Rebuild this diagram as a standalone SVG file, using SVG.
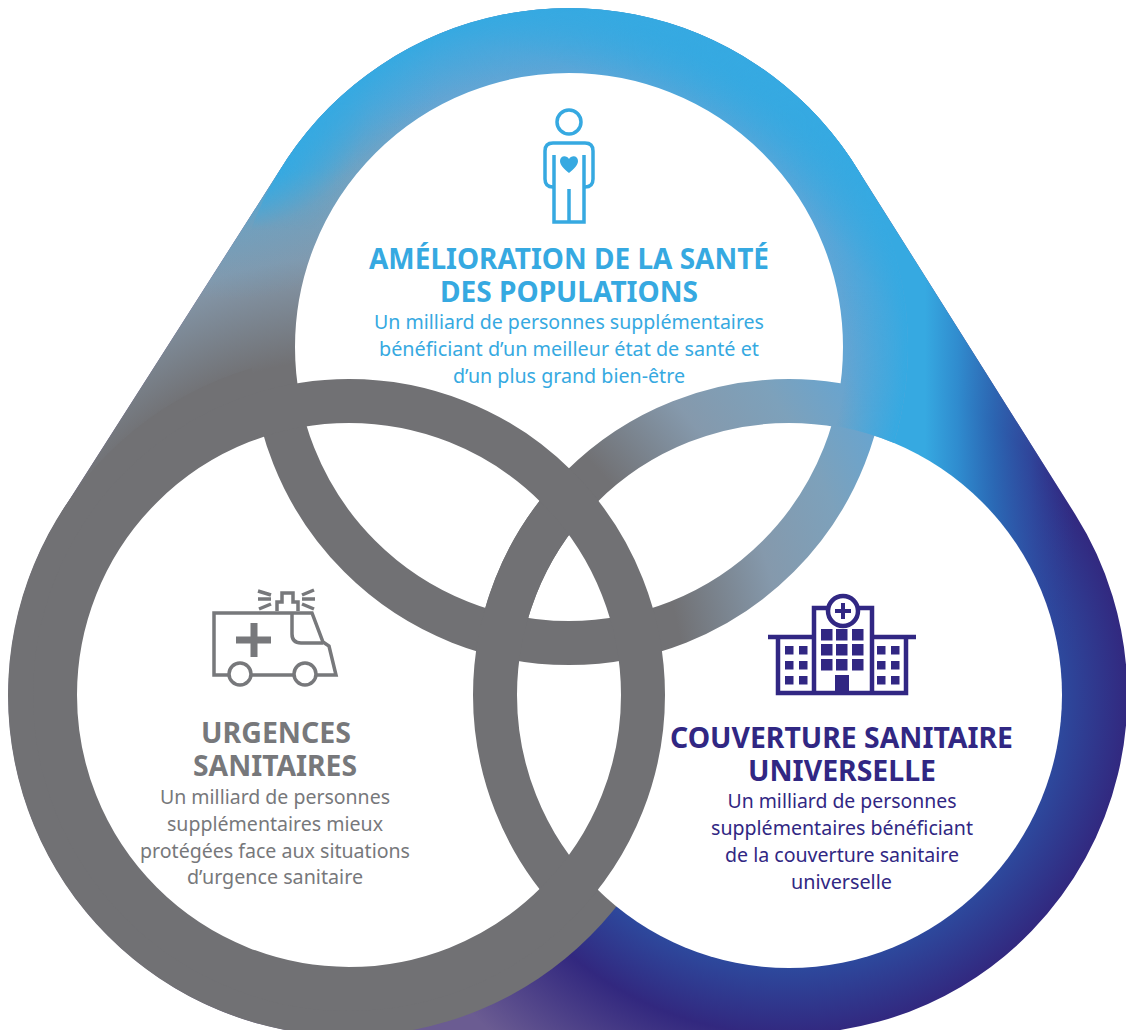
<svg xmlns="http://www.w3.org/2000/svg" width="1126" height="1030" viewBox="0 0 1126 1030">
<style>
text{font-family:"Noto Sans","Liberation Sans",sans-serif;text-anchor:middle}
.h{font-size:28px;font-weight:700}
.b{font-size:19px;font-weight:400}
.sky{fill:#36a9e1}.gr{fill:#77787b}.nv{fill:#312783}
.ring{fill:none;stroke-width:44}
</style>
<defs>
<radialGradient id="rT" gradientUnits="userSpaceOnUse" cx="349" cy="695" r="730">
<stop offset="0.46" stop-color="#717174"/><stop offset="0.6" stop-color="#8599ac"/><stop offset="0.71" stop-color="#7da1bb"/><stop offset="0.82" stop-color="#64a5d3"/><stop offset="0.91" stop-color="#5aa6d8"/><stop offset="1" stop-color="#36a9e1"/>
</radialGradient>
<radialGradient id="rO" gradientUnits="userSpaceOnUse" cx="230" cy="90" r="210">
<stop offset="0.36" stop-color="#36a9e1"/><stop offset="0.52" stop-color="#36a9e1" stop-opacity="0.55"/><stop offset="0.67" stop-color="#36a9e1" stop-opacity="0.2"/><stop offset="1" stop-color="#36a9e1" stop-opacity="0"/>
</radialGradient>
<radialGradient id="rE" gradientUnits="userSpaceOnUse" cx="569" cy="347" r="339">
<stop offset="0.82" stop-color="#36a9e1" stop-opacity="0"/><stop offset="0.94" stop-color="#36a9e1" stop-opacity="0.65"/><stop offset="1" stop-color="#36a9e1"/>
</radialGradient>
<radialGradient id="rR" gradientUnits="userSpaceOnUse" cx="789" cy="695" r="450">
<stop offset="0.6" stop-color="#2d4a9e"/><stop offset="0.755" stop-color="#32287f"/><stop offset="1" stop-color="#6b5c92"/>
</radialGradient>
<linearGradient id="lS" gradientUnits="userSpaceOnUse" x1="925" y1="430" x2="1075" y2="430">
<stop offset="0" stop-color="#36a9e1"/><stop offset="0.22" stop-color="#2f90d2" stop-opacity="0.95"/><stop offset="0.46" stop-color="#2a6fba" stop-opacity="0.85"/><stop offset="0.7" stop-color="#2e52a6" stop-opacity="0.7"/><stop offset="1" stop-color="#2f3a96" stop-opacity="0"/>
</linearGradient>
<linearGradient id="mV" gradientUnits="userSpaceOnUse" x1="0" y1="170" x2="0" y2="230">
<stop offset="0" stop-color="#fff"/><stop offset="1" stop-color="#000"/>
</linearGradient>
<linearGradient id="mH" gradientUnits="userSpaceOnUse" x1="720" y1="0" x2="800" y2="0">
<stop offset="0" stop-color="#000"/><stop offset="1" stop-color="#fff"/>
</linearGradient>
<mask id="mE" maskUnits="userSpaceOnUse" x="0" y="0" width="1126" height="1030">
<rect x="0" y="0" width="720" height="1030" fill="url(#mV)"/>
<rect x="720" y="0" width="406" height="1030" fill="url(#mH)"/>
<rect x="720" y="0" width="406" height="170" fill="#fff"/>
</mask>
<clipPath id="cT"><circle cx="569" cy="347" r="318"/></clipPath>
<clipPath id="cL"><circle cx="349" cy="695" r="316"/></clipPath>
<clipPath id="cH"><path d="M282.500 166A339 339 0 0 1 855.500 166L1075 514A339 339 0 0 1 789 1034L349 1036A341 341 0 0 1 61 513Z"/></clipPath>
<clipPath id="cO"><path clip-rule="evenodd" d="M0 0H1126V1030H0ZM516 695A273 273 0 0 0 1062 695A273 273 0 0 0 516 695Z"/></clipPath>
<path id="hull" d="M282.500 166A339 339 0 0 1 855.500 166L1075 514A339 339 0 0 1 789 1034L349 1036A341 341 0 0 1 61 513Z"/>
<path id="upper" d="M61 513L282.500 166L569 347L349 695ZM230 347A339 339 0 0 1 908 347A339 339 0 0 1 230 347Z"/>
</defs>
<g id="background">
<use href="#hull" fill="url(#rR)"/>
<rect x="700" y="100" width="426" height="550" fill="url(#lS)" clip-path="url(#cH)"/>
<use href="#upper" fill="url(#rT)"/>
<use href="#upper" fill="url(#rO)"/>
<circle cx="349" cy="695" r="341" fill="#717174"/>
</g>
<g id="discs" fill="#fff">
<circle cx="789" cy="695" r="273"/>
<circle cx="569" cy="347" r="275"/>
<circle cx="349" cy="695" r="273"/>
</g>
<g id="rings">
<circle class="ring" cx="569" cy="347" r="296" stroke="url(#rT)"/>
<circle class="ring" cx="569" cy="347" r="296" stroke="url(#rO)"/>
<circle class="ring" cx="789" cy="695" r="294" stroke="url(#rT)" clip-path="url(#cT)"/>
<circle class="ring" cx="789" cy="695" r="294" stroke="#717174" clip-path="url(#cL)"/>
<circle class="ring" cx="349" cy="695" r="294" stroke="#717174"/>
<g clip-path="url(#cO)"><path d="M230 347A339 339 0 0 1 908 347A339 339 0 0 1 230 347ZM296 347A273 273 0 0 0 842 347A273 273 0 0 0 296 347Z" fill="url(#rE)" mask="url(#mE)"/></g>
</g>
<g id="node-sante">
<g fill="none" stroke="#36a9e1" stroke-width="3.500">
<circle cx="569" cy="122" r="12"/>
<path d="M554 187H553Q545 187 545 179V151Q545 143 553 143H585Q593 143 593 151V179Q593 187 585 187H584"/>
<path d="M554 155V222H584V155M569 189V222"/>
</g>
<path d="M569 173C564 169 560 165 560 161C560 155 567 155 569 159C571 155 578 155 578 161C578 165 574 169 569 173Z" fill="#36a9e1"/>
<text class="h sky" x="569" y="268.500" textLength="400" lengthAdjust="spacingAndGlyphs">AMÉLIORATION DE LA SANTÉ</text>
<text class="h sky" x="569" y="301.500" textLength="258" lengthAdjust="spacingAndGlyphs">DES POPULATIONS</text>
<text class="b sky" x="569" y="328.500" textLength="390" lengthAdjust="spacingAndGlyphs">Un milliard de personnes supplémentaires</text>
<text class="b sky" x="569" y="355.500" textLength="380" lengthAdjust="spacingAndGlyphs">bénéficiant d’un meilleur état de santé et</text>
<text class="b sky" x="569" y="382.500" textLength="232" lengthAdjust="spacingAndGlyphs">d’un plus grand bien-être</text>
</g>
<g id="node-urgences">
<g fill="none" stroke="#77787b" stroke-width="3.500">
<path d="M229 675H214V613H312L323 642L329 646L336 675H316M251 675H294"/>
<path d="M292 613V634Q292 643 301 643H323"/>
<circle cx="240" cy="674" r="11"/><circle cx="305" cy="674" r="11"/>
<path d="M277 611V602H282V593H293V602H298V611"/>
<path d="M258 591L271 595M258 599H271M259 609L271 604M302 595L314 590M302 599H315M302 604L314 609"/>
</g>
<path d="M236 636.500H250.500V623H257.500V636.500H271V643.500H257.500V657H250.500V643.500H236Z" fill="#77787b"/>
<text class="h gr" x="276" y="743" textLength="150" lengthAdjust="spacingAndGlyphs">URGENCES</text>
<text class="h gr" x="275" y="776" textLength="164" lengthAdjust="spacingAndGlyphs">SANITAIRES</text>
<text class="b gr" x="275" y="804" textLength="230" lengthAdjust="spacingAndGlyphs">Un milliard de personnes</text>
<text class="b gr" x="275" y="831" textLength="216" lengthAdjust="spacingAndGlyphs">supplémentaires mieux</text>
<text class="b gr" x="275" y="858" textLength="270" lengthAdjust="spacingAndGlyphs">protégées face aux situations</text>
<text class="b gr" x="275" y="884" textLength="176" lengthAdjust="spacingAndGlyphs">d’urgence sanitaire</text>
</g>
<g id="node-couverture">
<g fill="none" stroke="#312783" stroke-width="4.500">
<path d="M768 637H813M871 637H916"/>
<path d="M778 637V693H906V637"/>
<path d="M814 693V608H872V693"/>
<circle cx="843" cy="611" r="15" fill="#fff"/>
</g>
<path d="M841 603H845V609H851V613H845V619H841V613H835V609H841Z" fill="#312783"/>
<g fill="#312783">
<rect x="821" y="629" width="11.500" height="11.500"/><rect x="836" y="629" width="11.500" height="11.500"/><rect x="852" y="629" width="11.500" height="11.500"/>
<rect x="821" y="644" width="11.500" height="11.500"/><rect x="836" y="644" width="11.500" height="11.500"/><rect x="852" y="644" width="11.500" height="11.500"/>
<rect x="821" y="659" width="11.500" height="11.500"/><rect x="836" y="659" width="11.500" height="11.500"/><rect x="852" y="659" width="11.500" height="11.500"/>
<rect x="835" y="675" width="14" height="19"/>
<rect x="785" y="646" width="8.500" height="8.500"/><rect x="799" y="646" width="8.500" height="8.500"/>
<rect x="785" y="661" width="8.500" height="8.500"/><rect x="799" y="661" width="8.500" height="8.500"/>
<rect x="785" y="676" width="8.500" height="8.500"/><rect x="799" y="676" width="8.500" height="8.500"/>
<rect x="877" y="646" width="8.500" height="8.500"/><rect x="891" y="646" width="8.500" height="8.500"/>
<rect x="877" y="661" width="8.500" height="8.500"/><rect x="891" y="661" width="8.500" height="8.500"/>
<rect x="877" y="676" width="8.500" height="8.500"/><rect x="891" y="676" width="8.500" height="8.500"/>
</g>
<text class="h nv" x="841.500" y="748" textLength="343" lengthAdjust="spacingAndGlyphs">COUVERTURE SANITAIRE</text>
<text class="h nv" x="842" y="781" textLength="188" lengthAdjust="spacingAndGlyphs">UNIVERSELLE</text>
<text class="b nv" x="842" y="808" textLength="229" lengthAdjust="spacingAndGlyphs">Un milliard de personnes</text>
<text class="b nv" x="842" y="835" textLength="262" lengthAdjust="spacingAndGlyphs">supplémentaires bénéficiant</text>
<text class="b nv" x="842" y="862" textLength="234" lengthAdjust="spacingAndGlyphs">de la couverture sanitaire</text>
<text class="b nv" x="841.500" y="889" textLength="101" lengthAdjust="spacingAndGlyphs">universelle</text>
</g>
<g id="connectors"/>
</svg>
